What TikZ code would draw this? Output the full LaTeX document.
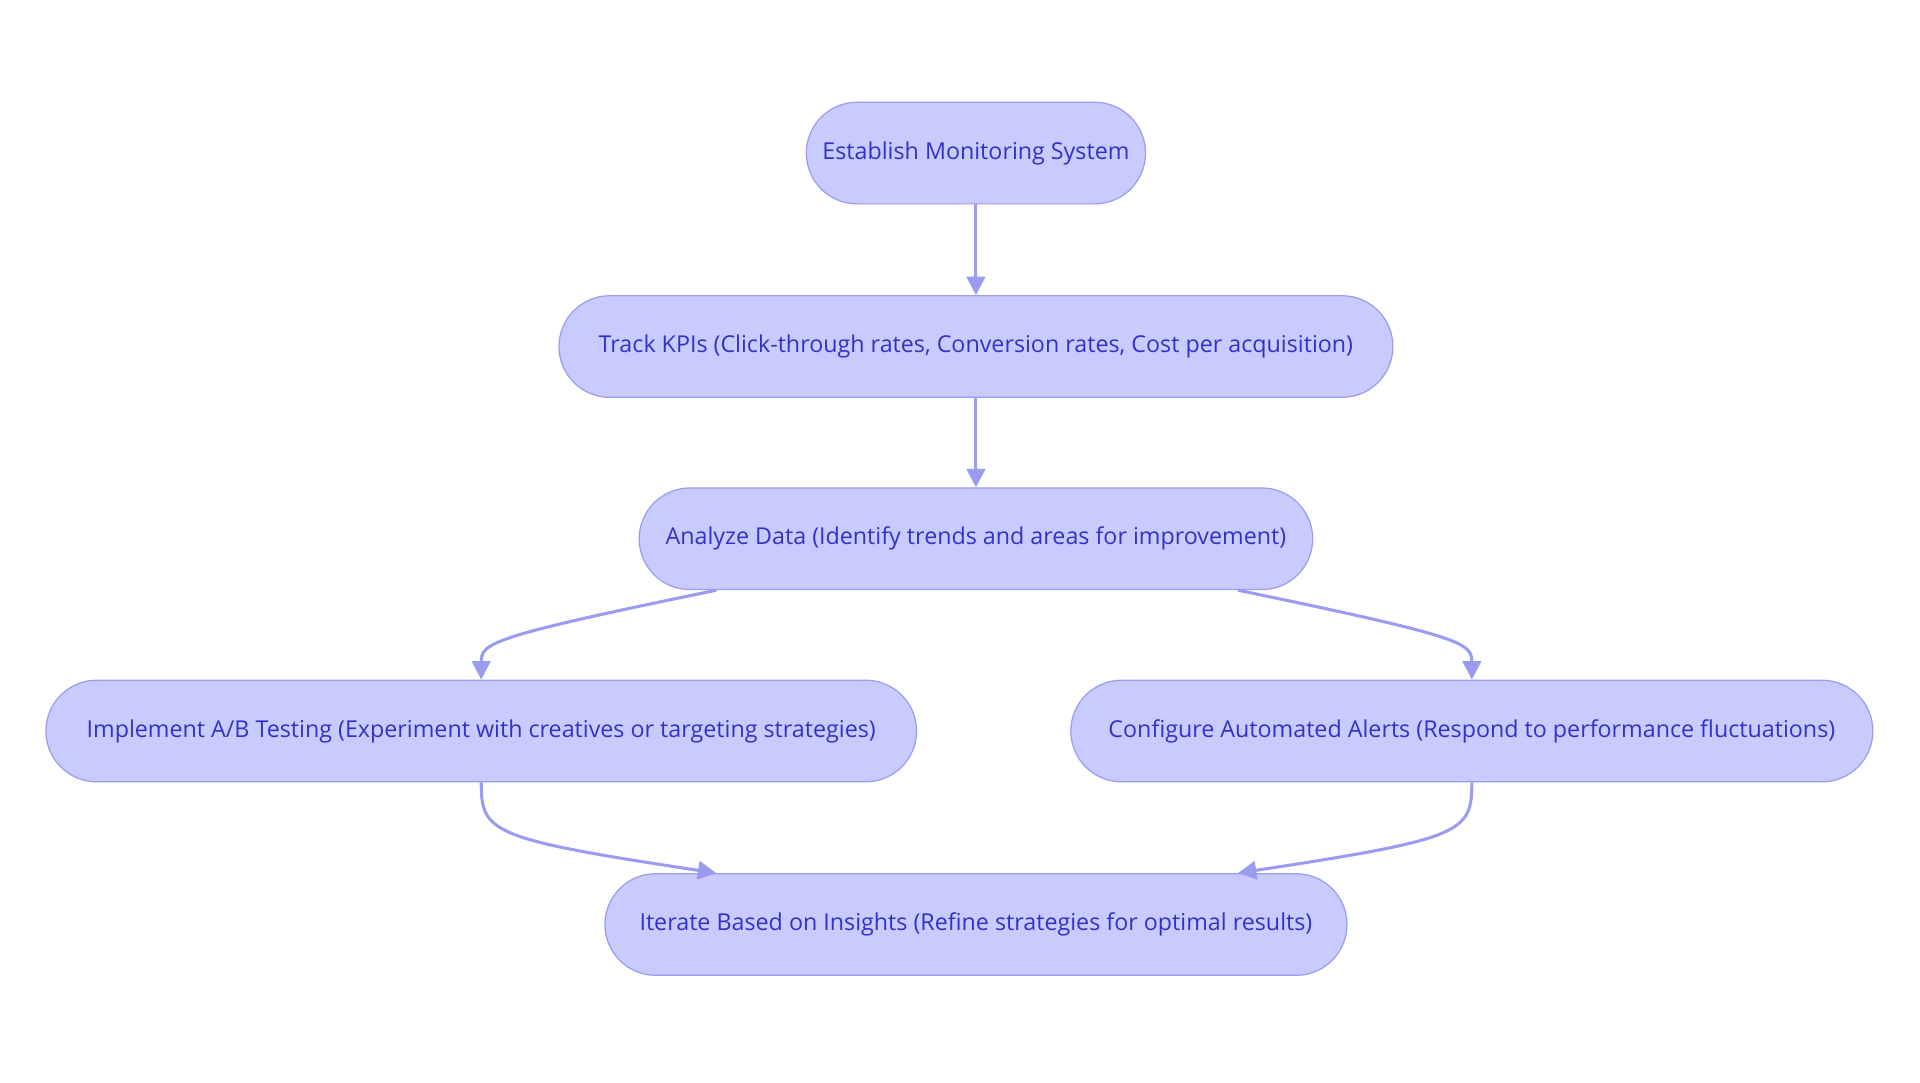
\documentclass[tikz,border=0pt]{standalone}
\usepackage{fontspec}
\setmainfont{Open Sans}
\usetikzlibrary{arrows.meta,shapes.misc}
\definecolor{boxfill}{HTML}{C9CBFE}
\definecolor{boxline}{HTML}{9A9CF0}
\definecolor{boxtext}{HTML}{3232C8}
\tikzset{
  stage/.style={rounded rectangle, draw=boxline, fill=boxfill, line width=1pt,
    text=boxtext, font=\fontsize{19}{22}\selectfont, minimum height=83pt, inner xsep=26pt},
  flow/.style={draw=boxline, line width=2.5pt, -{Triangle[width=15pt,length=15pt]}}
}
\begin{document}
\begin{tikzpicture}[x=1pt,y=1pt,yscale=-1]
\useasboundingbox (0,0) rectangle (1568,884);

% stages
\node[stage, minimum width=329pt] (establish) at (797,125) {Establish Monitoring System};
\node[stage, minimum width=733pt] (track) at (797,283) {Track KPIs (Click-through rates, Conversion rates, Cost per acquisition)};
\node[stage, minimum width=602pt] (analyze) at (797,440) {Analyze Data (Identify trends and areas for improvement)};
\node[stage, minimum width=763pt] (abtest) at (393,597) {Implement A/B Testing (Experiment with creatives or targeting strategies)};
\node[stage, minimum width=707pt] (alerts) at (1202,597) {Configure Automated Alerts (Respond to performance fluctuations)};
\node[stage, minimum width=658pt] (iterate) at (797,755) {Iterate Based on Insights (Refine strategies for optimal results)};

% connectors
\draw[flow] (establish) -- (track);
\draw[flow] (track) -- (analyze);
\draw[flow] ([xshift=-212pt]analyze.south) .. controls (400,520) and (393,525) .. (abtest.north);
\draw[flow] ([xshift=214pt]analyze.south) .. controls (1195,520) and (1202,525) .. (alerts.north);
\draw[flow] (abtest.south) .. controls (393,680) and (400,685) .. ([xshift=-212pt]iterate.north);
\draw[flow] (alerts.south) .. controls (1202,680) and (1195,685) .. ([xshift=214pt]iterate.north);
\end{tikzpicture}
\end{document}
